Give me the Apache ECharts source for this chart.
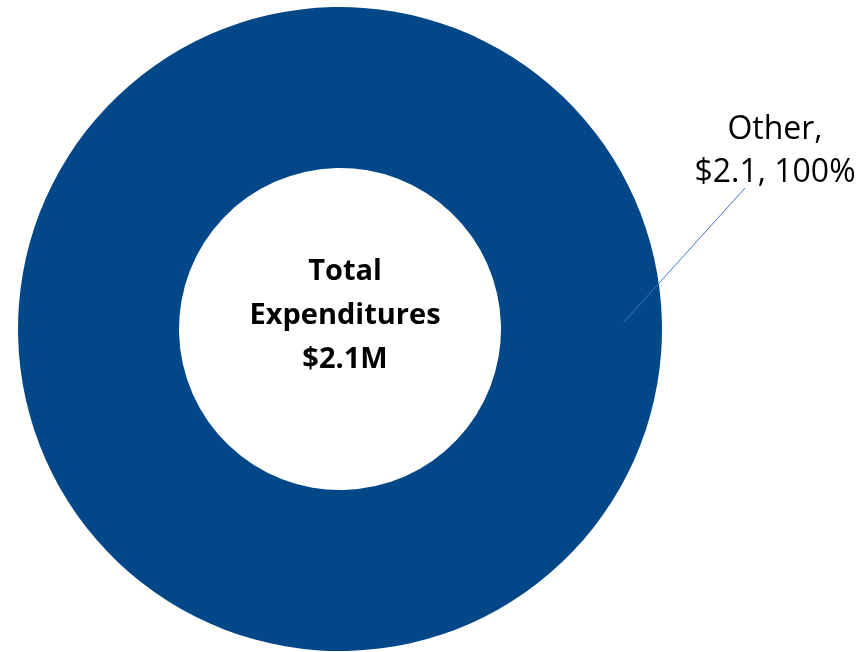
<!DOCTYPE html>
<html>
<head>
<meta charset="utf-8">
<script src="https://cdn.jsdelivr.net/npm/echarts@6/dist/echarts.min.js"></script>
<style>html,body{margin:0;padding:0;background:#fff}#c{width:864px;height:652px}</style>
</head>
<body>
<div id="c"></div>
<script>
var categories = ['Other'];
var values = [2.1];
var centerLines = ['Total', 'Expenditures', '$2.1M'];

var CX = 340, CY = 329, R_IN = 161, R_OUT = 322;
var chart = echarts.init(document.getElementById('c'), null, {renderer: 'canvas'});
var data = categories.map(function (n, i) { return {name: n, value: values[i]}; });

chart.setOption({
  animation: false,
  title: {
    text: centerLines.join('\n'),
    left: CX, top: 245, textAlign: 'center',
    textStyle: {fontFamily: 'Open Sans', fontWeight: 'bold', fontSize: 29, lineHeight: 44, color: '#000'}
  },
  series: [{
    type: 'pie',
    center: [CX, CY],
    radius: [R_IN, R_OUT],
    startAngle: 181.4,
    clockwise: true,
    itemStyle: {color: '#024788'},
    label: {show: false},
    labelLine: {show: false},
    emphasis: {disabled: true},
    silent: true,
    data: data
  }, {
    type: 'pie',
    center: [CX, CY],
    radius: [R_IN, R_OUT],
    startAngle: 181.4,
    clockwise: true,
    z: 5,
    itemStyle: {color: 'rgba(0,0,0,0)'},
    label: {
      show: true,
      overflow: 'none',
      formatter: function (p) { return p.name + ',\n$' + p.value.toFixed(1) + ', ' + Math.round(p.percent) + '%'; },
      fontFamily: 'Open Sans', fontSize: 32, lineHeight: 43, color: '#000'
    },
    labelLine: {show: true, showAbove: true, lineStyle: {color: '#4472C4', width: 1}},
    labelLayout: function () {
      var a = 1.4 * Math.PI / 180, r = 284;
      return {
        x: 775, y: 151, align: 'center', verticalAlign: 'middle',
        labelLinePoints: [[CX + r * Math.cos(a), CY - r * Math.sin(a)], [745, 188], [745, 188]]
      };
    },
    emphasis: {disabled: true},
    silent: true,
    data: data
  }]
});
</script>
</body>
</html>
